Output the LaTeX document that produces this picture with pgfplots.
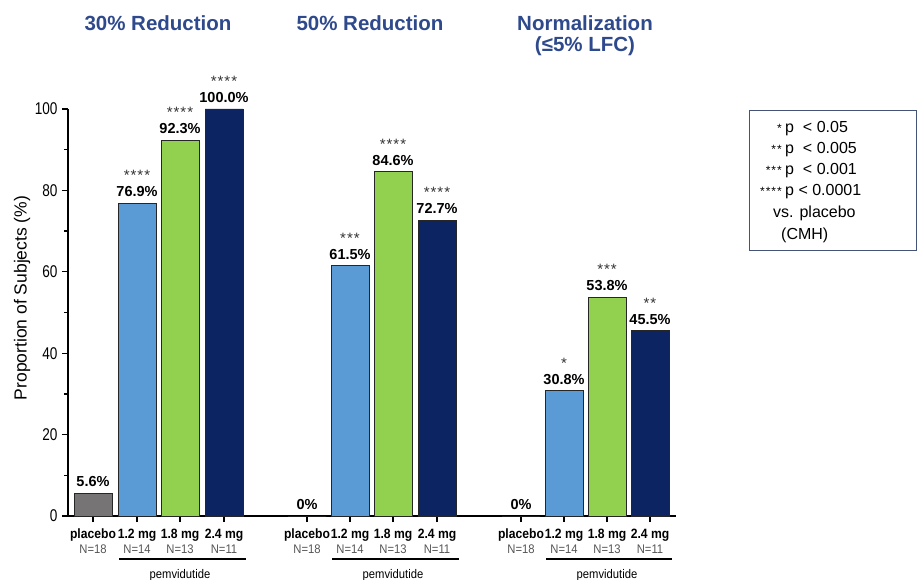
\documentclass[border=0pt]{standalone}
\usepackage{pgfplots}
\pgfplotsset{compat=1.18}
\usepackage{fontspec}
\setmainfont{Liberation Sans}
\newfontfamily\narrowfont[FakeStretch=0.8]{Liberation Sans}
\newfontfamily\lblfont[FakeStretch=0.9]{Liberation Sans}
\definecolor{ttl}{RGB}{46,74,140}
\definecolor{pbo}{RGB}{118,116,116}
\definecolor{lb}{RGB}{91,155,213}
\definecolor{gr}{RGB}{146,208,80}
\definecolor{nv}{RGB}{12,36,98}
\definecolor{ngray}{RGB}{85,85,85}
\definecolor{lgbox}{RGB}{68,84,120}
\protected\def\st#1{\ifcase#1\or *\or *\kern1pt*\or *\kern1pt*\kern1pt*\or *\kern1pt*\kern1pt*\kern1pt*\fi}
\protected\def\lab#1#2{\fontsize{14.5}{15}\selectfont\begin{tabular}{@{}c@{}}{\fontsize{15}{13}\selectfont\color{black!80}\st{#1}}\\[1pt]\textbf{#2\%}\end{tabular}}
\begin{document}
\begin{tikzpicture}
\useasboundingbox (0,0) rectangle (921pt,-580pt);
\begin{axis}[
  at={(68pt,-516pt)}, anchor=south west,
  x=1pt, y=4.07pt,
  xmin=68, xmax=676, ymin=0, ymax=100,
  axis lines=left, axis line style={-, line width=1.4pt},
  clip=false,
  xtick={93,137,180,224,307,350,393,437,521,564,607,650}, xticklabels={},
  ytick={0,20,...,100}, minor ytick={10,30,50,70,90},
  tick style={black, line width=1.3pt},
  major tick length=6pt, minor tick length=4pt,
  tick align=outside,
  yticklabel style={font=\narrowfont\fontsize{17}{17}\selectfont, xshift=-1pt},
  /pgf/number format/assume math mode=true,
  nodes near coords, point meta=explicit symbolic,
  every node near coord/.style={anchor=south, inner sep=1.5pt},
]
\addplot[ybar, bar width=38pt, bar shift=0pt, fill=pbo, draw=black!85, line width=0.8pt]
  coordinates {(93,5.6)[\lab{0}{5.6}] (307,0)[\lab{0}{0}] (521,0)[\lab{0}{0}]};
\addplot[ybar, bar width=38pt, bar shift=0pt, fill=lb, draw=black!85, line width=0.8pt]
  coordinates {(137,76.9)[\lab{4}{76.9}] (350,61.5)[\lab{3}{61.5}] (564,30.8)[\lab{1}{30.8}]};
\addplot[ybar, bar width=38pt, bar shift=0pt, fill=gr, draw=black!85, line width=0.8pt]
  coordinates {(180,92.3)[\lab{4}{92.3}] (393,84.6)[\lab{4}{84.6}] (607,53.8)[\lab{3}{53.8}]};
\addplot[ybar, bar width=38pt, bar shift=0pt, fill=nv, draw=black!85, line width=0.8pt]
  coordinates {(224,100)[\lab{4}{100.0}] (437,72.7)[\lab{4}{72.7}] (650,45.5)[\lab{2}{45.5}]};
\end{axis}
% titles
\node[font=\fontsize{20.5}{24}\selectfont\bfseries, text=ttl] at (158pt,-23pt) {30\% Reduction};
\node[font=\fontsize{20.5}{24}\selectfont\bfseries, text=ttl] at (370pt,-23pt) {50\% Reduction};
\node[font=\fontsize{20.5}{24}\selectfont\bfseries, text=ttl] at (585pt,-23pt) {Normalization};
\node[font=\fontsize{20.5}{24}\selectfont\bfseries, text=ttl] at (585pt,-46pt) {(≤5\% LFC)};
% y label
\node[rotate=90, font=\fontsize{17.5}{18}\selectfont] at (22pt,-298pt) {Proportion of Subjects (\%)};
% category labels
\foreach \x/\n/\N in {93/placebo/18,137/1.2 mg/14,180/1.8 mg/13,224/2.4 mg/11,
                      307/placebo/18,350/1.2 mg/14,393/1.8 mg/13,437/2.4 mg/11,
                      521/placebo/18,564/1.2 mg/14,607/1.8 mg/13,650/2.4 mg/11}{
  \node[anchor=base, inner sep=0pt, font=\lblfont\fontsize{13.5}{14}\selectfont\bfseries] at (\x pt,-538pt) {\n};
  \node[anchor=base, inner sep=0pt, font=\lblfont\fontsize{12.5}{13}\selectfont, text=ngray] at (\x pt,-553.5pt) {N=\N};
}
\foreach \a/\b/\c in {119/246/180,332/459/393,546/672/607}{
  \draw[line width=1.4pt] (\a pt,-559pt) -- (\b pt,-559pt);
  \node[anchor=base, inner sep=0pt, font=\lblfont\fontsize{12.5}{13}\selectfont] at (\c pt,-578pt) {pemvidutide};
}
% significance box
\draw[lgbox, line width=0.9pt] (749pt,-110pt) rectangle (916pt,-250pt);
\foreach \s/\t/\y in {1/{p\ \ < 0.05}/133, 2/{p\ \ < 0.005}/154, 3/{p\ \ < 0.001}/175, 4/{p < 0.0001}/196}{
  \node[anchor=base east, inner sep=0pt, font=\fontsize{12}{12}\selectfont] at (782pt,-\y pt) {\st{\s}};
  \node[anchor=base west, inner sep=0pt, font=\fontsize{16}{16}\selectfont] at (785pt,-\y pt) {\t};
}
\node[anchor=base west, inner sep=0pt, font=\fontsize{16}{16}\selectfont] at (773pt,-218pt) {vs. placebo};
\node[anchor=base west, inner sep=0pt, font=\fontsize{16}{16}\selectfont] at (781pt,-240pt) {(CMH)};
\end{tikzpicture}
\end{document}
